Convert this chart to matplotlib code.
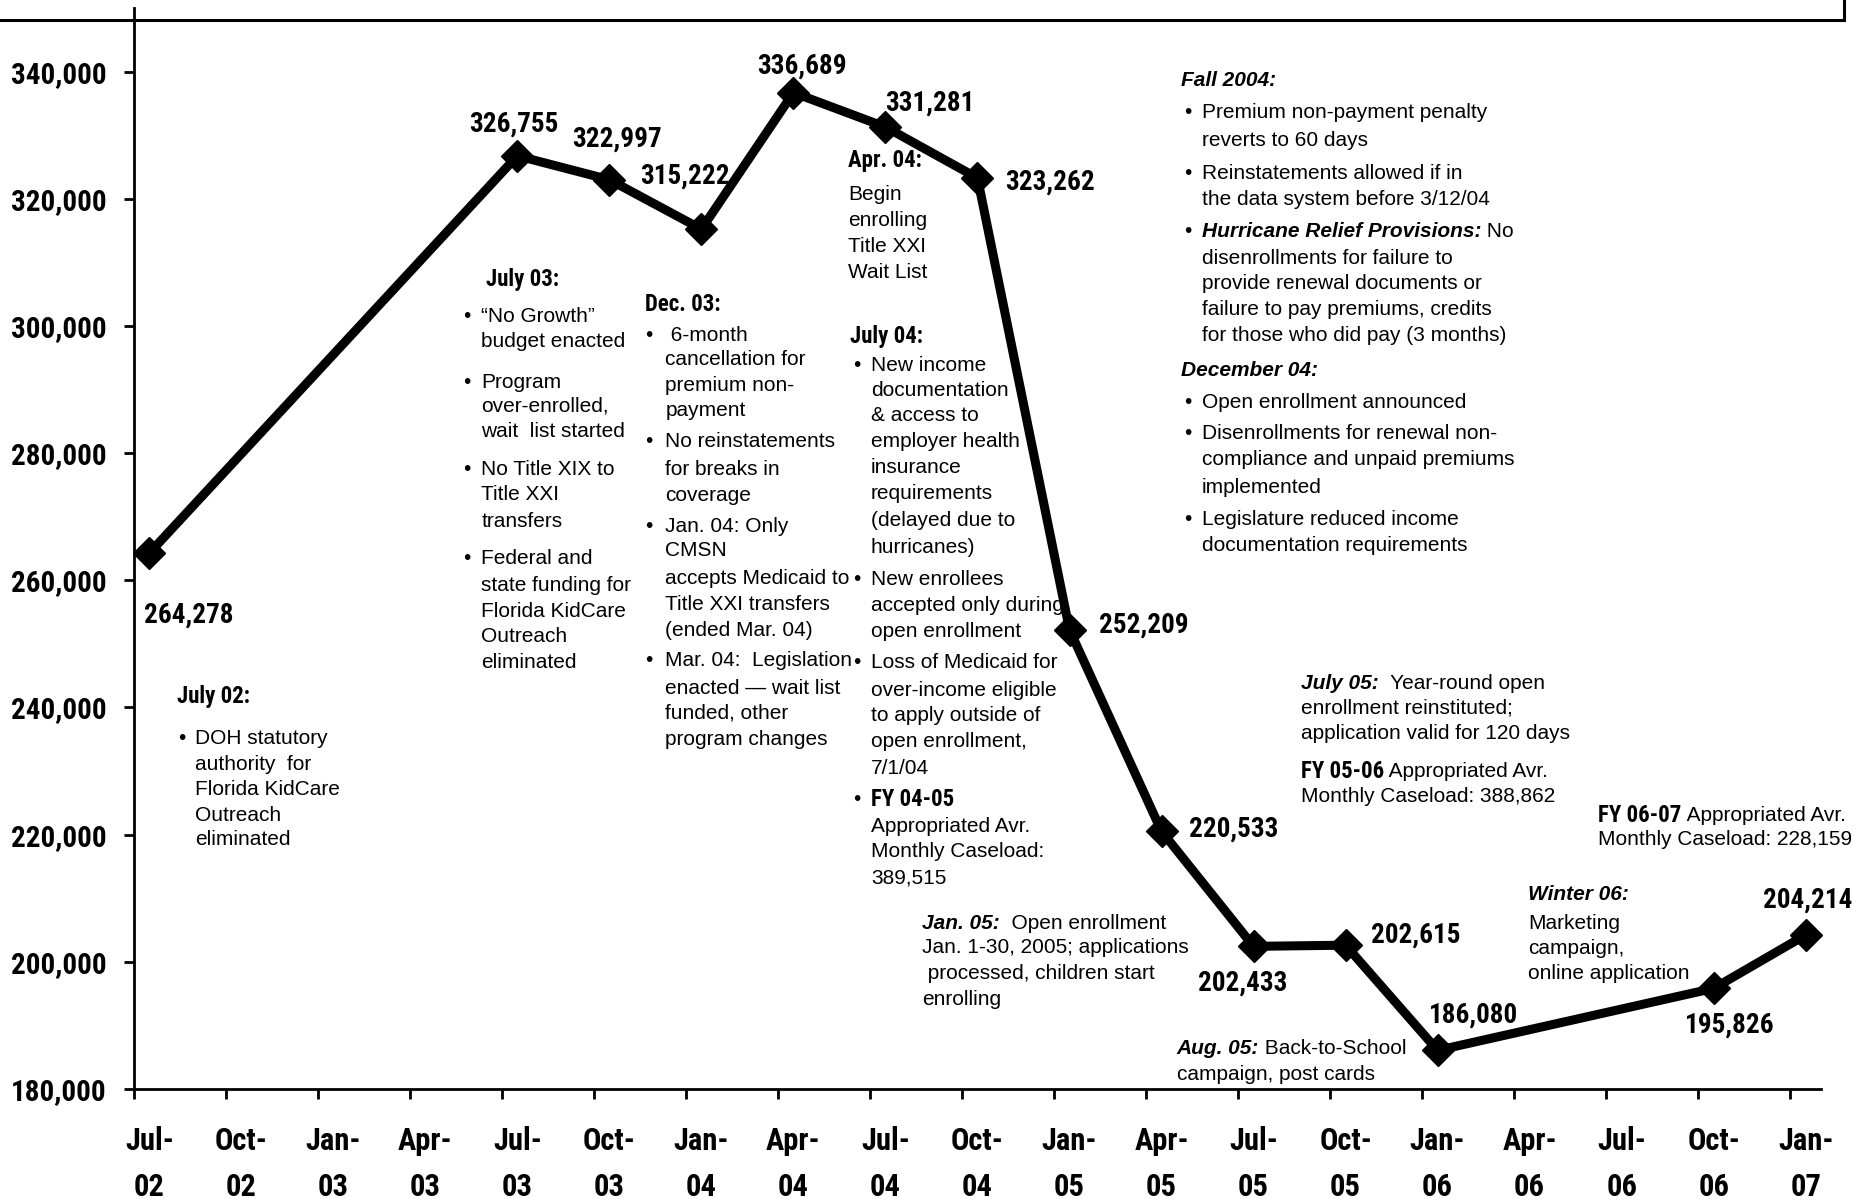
import matplotlib
matplotlib.use("Agg")
import matplotlib.pyplot as plt
from matplotlib.lines import Line2D
from matplotlib import font_manager
import numpy as np
import pandas as pd

# ---------------- data ----------------
months = ["2002-07", "2003-07", "2003-10", "2004-01", "2004-04", "2004-07", "2004-10",
          "2005-01", "2005-04", "2005-07", "2005-10", "2006-01", "2006-10", "2007-01"]
caseload = [264278, 326755, 322997, 315222, 336689, 331281, 323262,
            252209, 220533, 202433, 202615, 186080, 195826, 204214]
value_labels = ["264,278", "326,755", "322,997", "315,222", "336,689", "331,281", "323,262",
                "252,209", "220,533", "202,433", "202,615", "186,080", "195,826", "204,214"]
x_tick_labels = ["Jul-\n02", "Oct-\n02", "Jan-\n03", "Apr-\n03", "Jul-\n03", "Oct-\n03",
                 "Jan-\n04", "Apr-\n04", "Jul-\n04", "Oct-\n04", "Jan-\n05", "Apr-\n05",
                 "Jul-\n05", "Oct-\n05", "Jan-\n06", "Apr-\n06", "Jul-\n06", "Oct-\n06", "Jan-\n07"]
y_ticks = [180000, 200000, 220000, 240000, 260000, 280000, 300000, 320000, 340000]
y_tick_labels = ["180,000", "200,000", "220,000", "240,000", "260,000", "280,000",
                 "300,000", "320,000", "340,000"]

# label offsets (pixels) from each point
label_offsets = [(39, -62), (-4, 32), (8, 41), (-17, 53), (8, 27), (44, 24), (72, -4),
                 (74, 5), (72, 2), (-11, -37), (70, 10), (36, 35), (16, -37), (2, 35)]

available = {f.name for f in font_manager.fontManager.ttflist}
narrow_candidates = ["Liberation Sans Narrow", "Roboto Condensed", "DejaVu Sans Condensed",
                     "Open Sans Condensed", "Liberation Sans"]
NARROW_NAME = next(n for n in narrow_candidates if n in available)
NARROW = [NARROW_NAME, "DejaVu Sans"]
BODY = ["Liberation Sans", "DejaVu Sans"]

start = pd.Period("2002-07", "M")
end = pd.Period("2007-01", "M")
n_slots = (end - start).n + 1
xs = np.array([(pd.Period(m, "M") - start).n for m in months]) + 0.5

fig = plt.figure(figsize=(18.73, 12.04), dpi=100)
ax = fig.add_axes([134 / 1873, (1204 - 1089) / 1204, (1821 - 134) / 1873, (1089 - 8) / 1204])
ax.set_xlim(0, n_slots)
ax.set_ylim(180000, 350000)

ax.plot(xs, caseload, color="black", lw=6.5, marker="D", ms=16, clip_on=False, zorder=5)

for xv, yv, lab, off in zip(xs, caseload, value_labels, label_offsets):
    ax.annotate(lab, xy=(xv, yv), xytext=off, textcoords="offset pixels",
                ha="center", va="center", fontsize=19.5, fontweight="bold",
                family=NARROW, annotation_clip=False)

for s in ["top", "right"]:
    ax.spines[s].set_visible(False)
for s in ["left", "bottom"]:
    ax.spines[s].set_linewidth(2.0)

ax.set_yticks(y_ticks)
ax.set_yticklabels(y_tick_labels, fontsize=21, fontweight="bold", family=NARROW)
ax.tick_params(axis="y", direction="out", length=7, width=2, pad=13)

quarter_starts = np.arange(0, n_slots, 3)
ax.set_xticks(quarter_starts)
ax.set_xticklabels([""] * len(quarter_starts))
ax.tick_params(axis="x", which="major", direction="out", length=7, width=2)
ax.set_xticks(quarter_starts + 0.5, minor=True)
ax.set_xticklabels(x_tick_labels, minor=True, fontsize=22, fontweight="bold",
                   family=NARROW, linespacing=1.65)
ax.tick_params(axis="x", which="minor", length=0, pad=27)

# frame of surrounding box
fig.add_artist(Line2D([0, 1844 / 1873], [1 - 20 / 1204, 1 - 20 / 1204], color="black", lw=2.2))
fig.add_artist(Line2D([1844 / 1873, 1844 / 1873], [1 - 20 / 1204, 1], color="black", lw=2.2))

# ---------------- annotations ----------------
W, H = 1568.0, 1008.0


def fx(p):
    return p / W


def fy(p):
    return 1 - p / H


def put_line(x, y, segs, size=15, bullet_x=None):
    prev = None
    for txt, st in segs:
        narrow_bold = "b" in st and "i" not in st
        kw = dict(fontsize=16.5 if narrow_bold else size,
                  family=NARROW if narrow_bold else BODY,
                  fontweight="bold" if "b" in st else "normal",
                  fontstyle="italic" if "i" in st else "normal",
                  va="center", ha="left", color="black")
        if prev is None:
            prev = fig.text(fx(x), fy(y), txt, **kw)
        else:
            prev = ax.annotate(txt, xy=(1, 0.5), xycoords=prev, annotation_clip=False, **kw)
    if bullet_x is not None:
        fig.text(fx(bullet_x), fy(y), "\u2022", fontsize=size, family=BODY,
                 va="center", ha="left")


def block(text_x, bullet_x, items, size=15):
    for y, segs, bul in items:
        if isinstance(segs, str):
            segs = [(segs, "")]
        put_line(text_x, y, segs, size=size, bullet_x=bullet_x if bul else None)


# July 02
put_line(148, 583, [("July 02:", "b")])
block(163, 149, [(618, "DOH statutory", True), (640, "authority  for", False),
                 (661, "Florida KidCare", False), (683, "Outreach", False),
                 (703, "eliminated", False)])

# July 03
put_line(407, 234, [("July 03:", "b")])
block(403, 388, [(265, "\u201cNo Growth\u201d", True), (286, "budget enacted", False),
                 (320, "Program", True), (340, "over-enrolled,", False),
                 (361, "wait  list started", False),
                 (393, "No Title XIX to", True), (414, "Title XXI", False),
                 (437, "transfers", False),
                 (468, "Federal and", True), (490, "state funding for", False),
                 (512, "Florida KidCare", False), (533, "Outreach", False),
                 (555, "eliminated", False)])

# Dec. 03
put_line(540, 255, [("Dec. 03:", "b")])
block(557, 540, [(281, " 6-month", True), (301, "cancellation for", False),
                 (323, "premium non-", False), (344, "payment", False),
                 (370, "No reinstatements", True), (393, "for breaks in", False),
                 (415, "coverage", False),
                 (441, "Jan. 04: Only", True), (461, "CMSN", False),
                 (484, "accepts Medicaid to", False), (506, "Title XXI transfers", False),
                 (528, "(ended Mar. 04)", False),
                 (553, "Mar. 04:  Legislation", True), (576, "enacted \u2014 wait list", False),
                 (597, "funded, other", False), (619, "program changes", False)])

# Apr. 04
put_line(710, 134, [("Apr. 04:", "b")])
block(710, None, [(163, "Begin", False), (185, "enrolling", False),
                  (206, "Title XXI", False), (228, "Wait List", False)])

# July 04
put_line(712, 282, [("July 04:", "b")])
block(729, 714, [(306, "New income", True), (327, "documentation", False),
                 (348, "& access to", False), (370, "employer health", False),
                 (391, "insurance", False), (413, "requirements", False),
                 (436, "(delayed due to", False), (458, "hurricanes)", False),
                 (485, "New enrollees", True), (507, "accepted only during", False),
                 (529, "open enrollment", False),
                 (555, "Loss of Medicaid for", True), (578, "over-income eligible", False),
                 (599, "to apply outside of", False), (621, "open enrollment,", False),
                 (643, "7/1/04", False),
                 (669, [("FY 04-05", "b")], True), (692, "Appropriated Avr.", False),
                 (713, "Monthly Caseload:", False), (735, "389,515", False)])

# Fall 2004
put_line(989, 67, [("Fall 2004:", "bi")])
block(1006, 991, [(94, "Premium non-payment penalty", True), (118, "reverts to 60 days", False),
                  (145, "Reinstatements allowed if in", True),
                  (167, "the data system before 3/12/04", False),
                  (194, [("Hurricane Relief Provisions:", "bi"), (" No", "")], True),
                  (216, "disenrollments for failure to", False),
                  (237, "provide renewal documents or", False),
                  (259, "failure to pay premiums, credits", False),
                  (281, "for those who did pay (3 months)", False)])
put_line(989, 310, [("December 04:", "bi")])
block(1006, 991, [(337, "Open enrollment announced", True),
                  (363, "Disenrollments for renewal non-", True),
                  (385, "compliance and unpaid premiums", False),
                  (408, "implemented", False),
                  (435, "Legislature reduced income", True),
                  (457, "documentation requirements", False)])

# July 05
block(1089, None, [(572, [("July 05:", "bi"), ("  Year-round open", "")], False),
                   (593, "enrollment reinstituted;", False),
                   (614, "application valid for 120 days", False),
                   (646, [("FY 05-06", "b"), (" Appropriated Avr.", "")], False),
                   (667, "Monthly Caseload: 388,862", False)])

# FY 06-07
block(1338, None, [(683, [("FY 06-07", "b"), (" Appropriated Avr.", "")], False),
                   (703, "Monthly Caseload: 228,159", False)])

# Jan. 05
block(772, None, [(773, [("Jan. 05:", "bi"), ("  Open enrollment", "")], False),
                  (793, "Jan. 1-30, 2005; applications", False),
                  (815, " processed, children start", False),
                  (837, "enrolling", False)])

# Aug. 05
block(985, None, [(878, [("Aug. 05:", "bi"), (" Back-to-School", "")], False),
                  (900, "campaign, post cards", False)])

# Winter 06
block(1279, None, [(749, [("Winter 06:", "bi")], False), (773, "Marketing", False),
                   (794, "campaign,", False), (815, "online application", False)])

fig.savefig("out.png", dpi=100)
